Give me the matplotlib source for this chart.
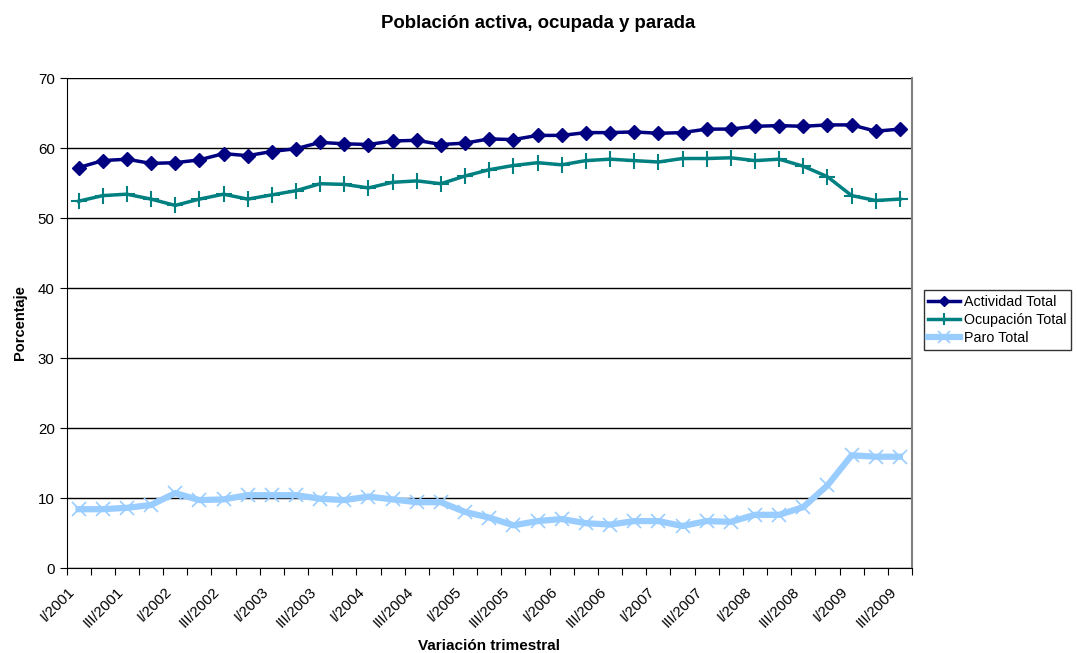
import numpy as np
import matplotlib.pyplot as plt
from matplotlib.ticker import FixedLocator, NullFormatter

plt.rcParams['font.family'] = ['Liberation Sans', 'DejaVu Sans']

roman = ['I', 'II', 'III', 'IV']
quarters = ['%s/%d' % (r, y) for y in range(2001, 2010) for r in roman][:35]

actividad = [57.2, 58.2, 58.4, 57.8, 57.9, 58.3, 59.2, 58.9, 59.5, 59.9,
             60.8, 60.6, 60.5, 61.0, 61.1, 60.5, 60.7, 61.3, 61.2, 61.8,
             61.8, 62.2, 62.2, 62.3, 62.1, 62.2, 62.7, 62.7, 63.1, 63.2,
             63.1, 63.3, 63.3, 62.4, 62.7]
ocupacion = [52.4, 53.2, 53.4, 52.7, 51.8, 52.7, 53.4, 52.7, 53.3, 53.9,
             54.9, 54.8, 54.3, 55.1, 55.3, 54.9, 56.0, 56.9, 57.5, 57.9,
             57.6, 58.2, 58.4, 58.2, 58.0, 58.5, 58.5, 58.6, 58.2, 58.4,
             57.4, 55.9, 53.2, 52.5, 52.7]
paro = [8.4, 8.4, 8.6, 9.0, 10.7, 9.7, 9.8, 10.4, 10.4, 10.4,
        9.9, 9.7, 10.2, 9.8, 9.4, 9.4, 8.0, 7.2, 6.1, 6.7,
        7.0, 6.4, 6.2, 6.7, 6.7, 6.0, 6.7, 6.6, 7.6, 7.6,
        8.7, 11.8, 16.1, 15.9, 15.9]

x = np.arange(len(quarters))

fig = plt.figure(figsize=(10.77, 6.53), dpi=100)
ax = fig.add_axes([66.5/1077, 1-568/653, (912-66.5)/1077, (568-78)/653])

ax.plot(x, actividad, color='#000080', lw=2.5, marker='D', ms=7, label='Actividad Total', zorder=4)
ax.plot(x, ocupacion, color='#008080', lw=2.5, marker='+', ms=11, mew=1.5, label='Ocupación Total', zorder=3)
ax.plot(x, paro, color='#99CCFF', lw=4.5, marker='x', ms=10, mew=1.2, label='Paro Total', zorder=2)

ax.set_xlim(-0.5, len(x)-0.5)
ax.set_ylim(0, 70)
ax.set_yticks(range(0, 71, 10))
ax.grid(axis='y', color='black', lw=1)
ax.set_axisbelow(True)

# category boundaries as tick marks, labels every other category (Excel-like placement)
ax.xaxis.set_major_locator(FixedLocator(np.arange(-0.5, len(x), 1)))
ax.xaxis.set_major_formatter(NullFormatter())
ax.xaxis.set_minor_locator(FixedLocator(x[::2] - 0.45))
ax.set_xticklabels(quarters[::2], minor=True, rotation=45, ha='right', va='top',
                   rotation_mode='anchor', fontsize=10.8)
ax.tick_params(axis='x', which='minor', length=0, pad=12)
ax.tick_params(axis='x', which='major', length=5, direction='out')
ax.tick_params(axis='y', length=5, direction='out', labelsize=10.8)

ax.spines['top'].set_visible(False)
ax.spines['right'].set_color('#808080')
ax.spines['right'].set_linewidth(1.5)

ax.set_ylabel('Porcentaje', fontsize=10.5, fontweight='bold', labelpad=8)
ax.set_xlabel('Variación trimestral', fontsize=11, fontweight='bold', labelpad=6)
fig.text(538/1077, 1-23/653, 'Población activa, ocupada y parada', ha='center', va='center',
         fontsize=13.4, fontweight='bold')

leg = ax.legend(loc='center left', bbox_to_anchor=(924/1077, 1-320/653), bbox_transform=fig.transFigure,
                frameon=True, fancybox=False, edgecolor='black', fontsize=10.3, handlelength=2.2,
                borderpad=0.3, labelspacing=0.3, handletextpad=0.3, borderaxespad=0, markerscale=0.8)
leg.get_frame().set_linewidth(1)

plt.savefig('out.png')
